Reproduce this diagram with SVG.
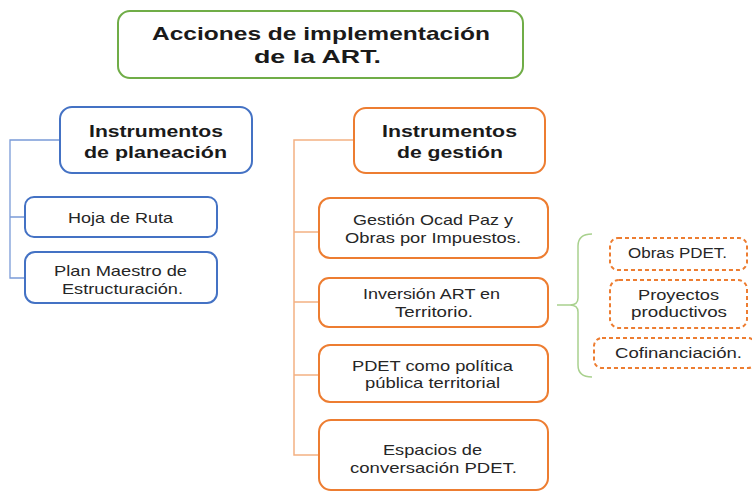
<svg xmlns="http://www.w3.org/2000/svg" width="752" height="493" viewBox="0 0 752 493">
<style>
text{font-family:"Liberation Sans",Arial,sans-serif;fill:#1a1a1a;text-anchor:middle}
.h{font-weight:bold;font-size:17px}
.t{font-weight:bold;font-size:19px}
.b{font-size:15px;fill:#262626}
.s{font-size:14px;fill:#262626}
.g{fill:#fff;stroke:#70AD47;stroke-width:2}
.bl{fill:#fff;stroke:#4472C4;stroke-width:2}
.or{fill:#fff;stroke:#ED7D31;stroke-width:2}
.od{fill:#fff;stroke:#ED7D31;stroke-width:2;stroke-dasharray:4 3}
.cb{fill:none;stroke:#7A9BD8;stroke-width:1.3}
.co{fill:none;stroke:#F4B183;stroke-width:1.5}
.cg{fill:none;stroke:#A9D18E;stroke-width:1.5}
</style>
<g id="connectors">
<path class="cb" d="M60,140 H10 V278 H25 M10,217 H25"/>
<path class="co" d="M354,140 H294 V455 H319 M294,232 H319 M294,302 H319 M294,375 H319"/>
<path class="cg" d="M592,234 Q578,234 578,246 V298 Q578,305 570,305 H557 M570,305 Q578,305 578,312 V365 Q578,377 592,377"/>
</g>
<g id="title">
<rect class="g" x="118" y="11" width="405" height="67" rx="12"/>
<text class="t" x="321" y="40" textLength="338" lengthAdjust="spacingAndGlyphs">Acciones de implementación</text>
<text class="t" x="317.5" y="63" textLength="127" lengthAdjust="spacingAndGlyphs">de la ART.</text>
</g>
<g id="planeacion">
<rect class="bl" x="60" y="107" width="192" height="66" rx="12"/>
<text class="h" x="156" y="137" textLength="134" lengthAdjust="spacingAndGlyphs">Instrumentos</text>
<text class="h" x="155.5" y="158" textLength="143" lengthAdjust="spacingAndGlyphs">de planeación</text>
</g>
<g id="hoja">
<rect class="bl" x="25" y="197" width="192" height="40" rx="9"/>
<text class="b" x="120.5" y="223" textLength="105" lengthAdjust="spacingAndGlyphs">Hoja de Ruta</text>
</g>
<g id="plan">
<rect class="bl" x="25" y="252" width="192" height="51" rx="10"/>
<text class="b" x="120.5" y="276" textLength="133" lengthAdjust="spacingAndGlyphs">Plan Maestro de</text>
<text class="b" x="122.5" y="294" textLength="121" lengthAdjust="spacingAndGlyphs">Estructuración.</text>
</g>
<g id="gestion">
<rect class="or" x="354" y="108" width="191" height="65" rx="12"/>
<text class="h" x="449.5" y="137" textLength="135" lengthAdjust="spacingAndGlyphs">Instrumentos</text>
<text class="h" x="450" y="158" textLength="106" lengthAdjust="spacingAndGlyphs">de gestión</text>
</g>
<g id="ocad">
<rect class="or" x="319" y="198" width="229" height="60" rx="11"/>
<text class="b" x="433" y="225" textLength="160" lengthAdjust="spacingAndGlyphs">Gestión Ocad Paz y</text>
<text class="b" x="433" y="243" textLength="176" lengthAdjust="spacingAndGlyphs">Obras por Impuestos.</text>
</g>
<g id="inversion">
<rect class="or" x="319" y="278" width="229" height="49" rx="10"/>
<text class="b" x="431.5" y="299" textLength="137" lengthAdjust="spacingAndGlyphs">Inversión ART en</text>
<text class="b" x="434" y="317" textLength="78" lengthAdjust="spacingAndGlyphs">Territorio.</text>
</g>
<g id="pdet">
<rect class="or" x="319" y="345" width="229" height="57" rx="11"/>
<text class="b" x="432.5" y="371" textLength="161" lengthAdjust="spacingAndGlyphs">PDET como política</text>
<text class="b" x="432.5" y="388" textLength="135" lengthAdjust="spacingAndGlyphs">pública territorial</text>
</g>
<g id="espacios">
<rect class="or" x="319" y="420" width="229" height="70" rx="12"/>
<text class="b" x="432.5" y="455" textLength="99" lengthAdjust="spacingAndGlyphs">Espacios de</text>
<text class="b" x="433.5" y="473" textLength="167" lengthAdjust="spacingAndGlyphs">conversación PDET.</text>
</g>
<g id="obras">
<rect class="od" x="610" y="238" width="137" height="32" rx="8"/>
<text class="s" x="677.5" y="258" textLength="99" lengthAdjust="spacingAndGlyphs">Obras PDET.</text>
</g>
<g id="proyectos">
<rect class="od" x="610" y="280" width="137" height="48" rx="9"/>
<text class="s" x="678.5" y="300" textLength="81" lengthAdjust="spacingAndGlyphs">Proyectos</text>
<text class="s" x="679" y="317" textLength="96" lengthAdjust="spacingAndGlyphs">productivos</text>
</g>
<g id="cofinanciacion">
<rect class="od" x="594" y="338" width="162" height="30" rx="8"/>
<text class="s" x="678.5" y="358" textLength="127" lengthAdjust="spacingAndGlyphs">Cofinanciación.</text>
</g>
</svg>
